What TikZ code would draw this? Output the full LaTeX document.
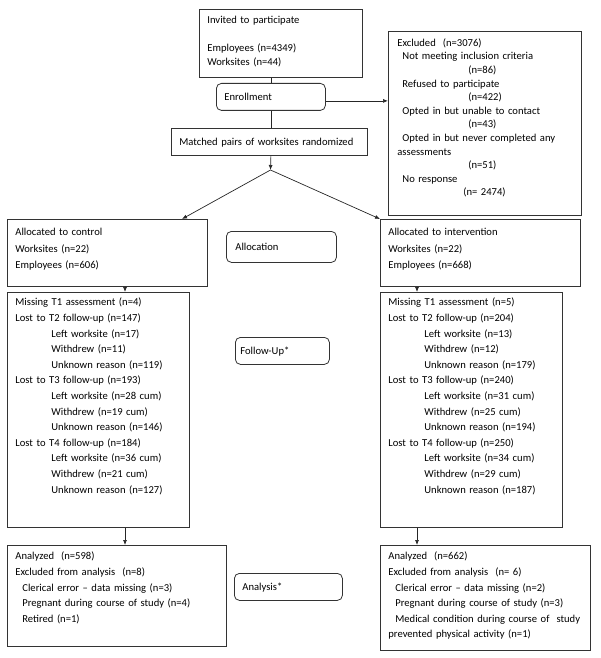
\documentclass[tikz,border=0pt]{standalone}
\usepackage{fontspec}
\setmainfont{Carlito}
\usetikzlibrary{arrows.meta}

\tikzset{
  every node/.style={font=\fontsize{10.6}{15.6}\selectfont},
  box/.style 2 args={draw=black!80, line width=0.8pt, anchor=north west, align=left,
    inner xsep=8pt, inner ysep=0pt, text width=#1-16, text height=13.5, text depth=#2-13.5},
  midbox/.style 2 args={box={#1}{#2}, text height=#2/2+3.5, text depth=#2/2-3.5},
  roundbox/.style 2 args={midbox={#1}{#2}, rounded corners=5pt},
  arr/.style={-{Latex[length=5pt,width=4pt]}, line width=0.7pt, draw=black!85},
  link/.style={line width=0.7pt, draw=black!85}
}

\begin{document}
\begin{tikzpicture}[x=1pt, y=-1pt]
\useasboundingbox (0,0) rectangle (600,658);

% Enrollment
\node[box={163}{68}, text height=14, font=\fontsize{10.6}{14}\selectfont] (invited) at (199,9)
  {Invited to participate\\[14pt] Employees (n=4349)\\ Worksites (n=44)};
\node[roundbox={109}{27}] (enroll) at (216,83) {Enrollment};
\node[midbox={196}{27}] (matched) at (171,128) {Matched pairs of worksites randomized};
\node[box={191}{182}, text height=15, inner xsep=9pt, font=\fontsize{10.6}{13.6}\selectfont] (excluded) at (388,31)
  {Excluded\ \ (n=3076)\\
   \hspace*{5pt}Not meeting inclusion criteria\\
   \hspace*{71pt}(n=86)\\
   \hspace*{5pt}Refused to participate\\
   \hspace*{71pt}(n=422)\\
   \hspace*{5pt}Opted in but unable to contact\\
   \hspace*{71pt}(n=43)\\
   \hspace*{5pt}Opted in but never completed any\\
   assessments\\
   \hspace*{71pt}(n=51)\\
   \hspace*{5pt}No response\\
   \hspace*{66pt}(n= 2474)};
\coordinate (split) at (270.5,170);

% Allocation
\node[box={200}{64}, text height=16.5, font=\fontsize{10.6}{16.5}\selectfont] (ctrlalloc) at (7,219)
  {Allocated to control\\ Worksites (n=22)\\ Employees (n=606)};
\node[roundbox={108}{31}, inner xsep=9pt] (allocation) at (226,231) {Allocation};
\node[box={200}{64}, text height=16.5, font=\fontsize{10.6}{16.5}\selectfont] (intalloc) at (380,219)
  {Allocated to intervention\\ Worksites (n=22)\\ Employees (n=668)};

% Follow-up
\node[box={182}{235}] (ctrlfu) at (7,292)
  {Missing T1 assessment (n=4)\\
   Lost to T2 follow-up (n=147)\\
   \hspace*{36pt}Left worksite (n=17)\\
   \hspace*{36pt}Withdrew (n=11)\\
   \hspace*{36pt}Unknown reason (n=119)\\
   Lost to T3 follow-up (n=193)\\
   \hspace*{36pt}Left worksite (n=28 cum)\\
   \hspace*{36pt}Withdrew (n=19 cum)\\
   \hspace*{36pt}Unknown reason (n=146)\\
   Lost to T4 follow-up (n=184)\\
   \hspace*{36pt}Left worksite (n=36 cum)\\
   \hspace*{36pt}Withdrew (n=21 cum)\\
   \hspace*{36pt}Unknown reason (n=127)};
\node[roundbox={100}{27}, inner xsep=5pt] (followup) at (235,337) {Follow-Up*};
\node[box={182}{235}] (intfu) at (380,292)
  {Missing T1 assessment (n=5)\\
   Lost to T2 follow-up (n=204)\\
   \hspace*{36pt}Left worksite (n=13)\\
   \hspace*{36pt}Withdrew (n=12)\\
   \hspace*{36pt}Unknown reason (n=179)\\
   Lost to T3 follow-up (n=240)\\
   \hspace*{36pt}Left worksite (n=31 cum)\\
   \hspace*{36pt}Withdrew (n=25 cum)\\
   \hspace*{36pt}Unknown reason (n=194)\\
   Lost to T4 follow-up (n=250)\\
   \hspace*{36pt}Left worksite (n=34 cum)\\
   \hspace*{36pt}Withdrew (n=29 cum)\\
   \hspace*{36pt}Unknown reason (n=187)};

% Analysis
\node[box={219}{100}, text height=14.5] (ctrlan) at (7,545)
  {Analyzed\ \ (n=598)\\
   Excluded from analysis\ \ (n=8)\\
   \hspace*{7pt}Clerical error -- data missing (n=3)\\
   \hspace*{7pt}Pregnant during course of study (n=4)\\
   \hspace*{7pt}Retired (n=1)};
\node[roundbox={108}{27}] (analysis) at (234,573) {Analysis*};
\node[box={210}{104}, text height=14.5] (intan) at (380,545)
  {Analyzed\ \ (n=662)\\
   Excluded from analysis\ \ (n= 6)\\
   \hspace*{7pt}Clerical error -- data missing (n=2)\\
   \hspace*{7pt}Pregnant during course of study (n=3)\\
   \hspace*{7pt}Medical condition during course of\ \ study\\
   prevented physical activity (n=1)};

% Connectors
\draw[link] (invited.south -| enroll.north) -- (enroll.north);
\draw[link] (enroll.south) -- (enroll.south |- matched.north);
\draw[arr] ([yshift=-4pt]enroll.east) -- ([yshift=-4pt]enroll.east -| excluded.west);
\draw[arr] (enroll.south |- matched.south) -- (split);
\draw[arr] (split) -- ([xshift=175pt]ctrlalloc.north west);
\draw[arr] (split) -- (intalloc.north west);
\draw[arr] ([xshift=118pt]ctrlalloc.south west) -- ([xshift=118pt]ctrlfu.north west);
\draw[arr] ([xshift=37pt]intalloc.south west) -- ([xshift=37pt]intfu.north west);
\draw[arr] ([xshift=118pt]ctrlfu.south west) -- ([xshift=118pt]ctrlan.north west);
\draw[arr] ([xshift=37pt]intfu.south west) -- ([xshift=37pt]intan.north west);

\end{tikzpicture}
\end{document}
